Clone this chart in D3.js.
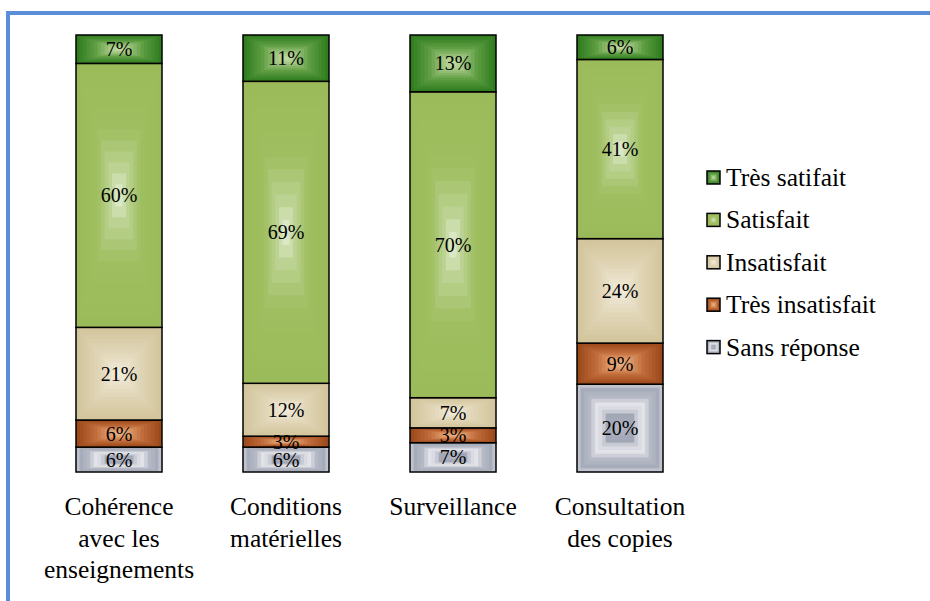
<!DOCTYPE html>
<html>
<head>
<meta charset="UTF-8">
<title>Satisfaction</title>
<script src="https://cdn.jsdelivr.net/npm/d3@7"></script>
<style>
  body { margin: 0; background: #fff; }
</style>
</head>
<body>
<div id="chart"></div>
<script>
// categories (x axis), lines split with "\n"
const categories = ["Cohérence\navec les\nenseignements", "Conditions\nmatérielles", "Surveillance", "Consultation\ndes copies"];

// series, bottom to top
const seriesNames = ["Sans réponse", "Très insatisfait", "Insatisfait", "Satisfait", "Très satifait"];

// values (%), one per category
const sansReponse     = [5.7, 5.7, 6.7, 20.1];
const tresInsatisfait = [6.2, 2.5, 3.4, 9.4];
const insatisfait     = [21.2, 12.1, 6.9, 23.9];
const satisfait       = [60.4, 69.1, 70.0, 41.0];
const tresSatisfait   = [6.5, 10.6, 13.0, 5.6];

const w = 930, h = 601;
const serif = "'Liberation Serif', 'Times New Roman', Times, 'DejaVu Serif', serif";

// colour ramps: t = 0 at the edge of a segment, 1 at its centre
const ramps = {
  "Très satifait":   [[0, "#2b7a1d"], [0.45, "#5e9d42"], [0.8, "#a6c986"], [1, "#c2dca4"]],
  "Satisfait":       [[0, "#9bbb59"], [0.5, "#9fbe5f"], [0.8, "#bcd393"], [1, "#e2eed2"]],
  "Insatisfait":     [[0, "#d2c49b"], [0.5, "#dfd4b4"], [1, "#f1ecdc"]],
  "Très insatisfait":[[0, "#984619"], [0.45, "#c06b3a"], [0.8, "#e29e6d"], [1, "#eab48a"]],
  "Sans réponse":    [[0, "#dfe1e6"], [0.08, "#a3a8b7"], [0.3, "#b6bac6"], [0.45, "#e3e4e9"], [0.6, "#d4d6dd"], [0.72, "#9ea3b3"], [1, "#b4b8c5"]]
};

function rampColor(name, t) {
  const s = ramps[name];
  for (let i = 1; i < s.length; i++) {
    if (t <= s[i][0]) {
      const k = (t - s[i - 1][0]) / (s[i][0] - s[i - 1][0]);
      return d3.interpolateRgb(s[i - 1][1], s[i][1])(k);
    }
  }
  return s[s.length - 1][1];
}

const table = categories.map((c, i) => ({
  cat: c,
  "Sans réponse": sansReponse[i],
  "Très insatisfait": tresInsatisfait[i],
  "Insatisfait": insatisfait[i],
  "Satisfait": satisfait[i],
  "Très satifait": tresSatisfait[i]
}));

const stack = d3.stack().keys(seriesNames).offset(d3.stackOffsetExpand);
const layers = stack(table);

const x = d3.scaleBand()
  .domain(categories)
  .range([35.5, 703.5])
  .paddingInner(0.485)
  .paddingOuter(0.2425);

const y = d3.scaleLinear().domain([0, 1]).range([472, 35]);

const svg = d3.select("#chart").append("svg")
  .attr("width", w)
  .attr("height", h)
  .attr("font-family", serif);

svg.append("rect").attr("width", w).attr("height", h).attr("fill", "#fff");

// blue frame (only top and left are inside the picture)
svg.append("rect")
  .attr("x", 8).attr("y", 13)
  .attr("width", 1000).attr("height", 1000)
  .attr("fill", "none")
  .attr("stroke", "#5b8ed8")
  .attr("stroke-width", 4);

const steps = 12;

// draw a rectangular (centre) gradient as nested rects
function gradRect(g, name, x0, y0, ww, hh) {
  for (let k = 0; k < steps; k++) {
    const t = k / steps;
    g.append("rect")
      .attr("x", x0 + t * ww / 2)
      .attr("y", y0 + t * hh / 2)
      .attr("width", ww * (1 - t))
      .attr("height", hh * (1 - t))
      .attr("fill", rampColor(name, (k + 0.5) / steps));
  }
}

const fmt = v => Math.round(v) + "%";

layers.forEach(layer => {
  const name = layer.key;
  const g = svg.append("g");
  layer.forEach(d => {
    const x0 = x(d.data.cat);
    const y0 = y(d[1]);
    const hh = y(d[0]) - y(d[1]);
    gradRect(g, name, x0, y0, x.bandwidth(), hh);
    g.append("rect")
      .attr("x", x0).attr("y", y0)
      .attr("width", x.bandwidth()).attr("height", hh)
      .attr("fill", "none")
      .attr("stroke", "#000")
      .attr("stroke-width", 1.5);
  });
});

// value labels
layers.forEach(layer => {
  svg.append("g").selectAll("text")
    .data(layer)
    .join("text")
    .attr("x", d => x(d.data.cat) + x.bandwidth() / 2)
    .attr("y", d => (y(d[0]) + y(d[1])) / 2 + 7)
    .attr("text-anchor", "middle")
    .attr("font-family", serif)
    .style("font-size", "20px")
    .text(d => fmt(d.data[layer.key]));
});

// category labels
const catText = svg.append("g").selectAll("text")
  .data(categories)
  .join("text")
  .attr("text-anchor", "middle")
  .attr("font-family", serif)
  .style("font-size", "25.5px");

catText.each(function (c) {
  const t = d3.select(this);
  c.split("\n").forEach((line, j) => {
    t.append("tspan")
      .attr("x", x(c) + x.bandwidth() / 2)
      .attr("y", 515 + j * 31.5)
      .text(line);
  });
});

// legend, top to bottom
const legendNames = seriesNames.slice().reverse();
const legend = svg.append("g");
legendNames.forEach((name, i) => {
  const cy = 177.5 + i * 42.4;
  const lg = legend.append("g");
  gradRect(lg, name, 707, cy - 6.5, 13, 13);
  lg.append("rect")
    .attr("x", 707).attr("y", cy - 6.5)
    .attr("width", 13).attr("height", 13)
    .attr("fill", "none")
    .attr("stroke", "#000")
    .attr("stroke-width", 1.5);
  lg.append("text")
    .attr("x", 726)
    .attr("y", cy + 8.5)
    .attr("font-family", serif)
    .style("font-size", "25.5px")
    .text(name);
});
</script>
</body>
</html>
